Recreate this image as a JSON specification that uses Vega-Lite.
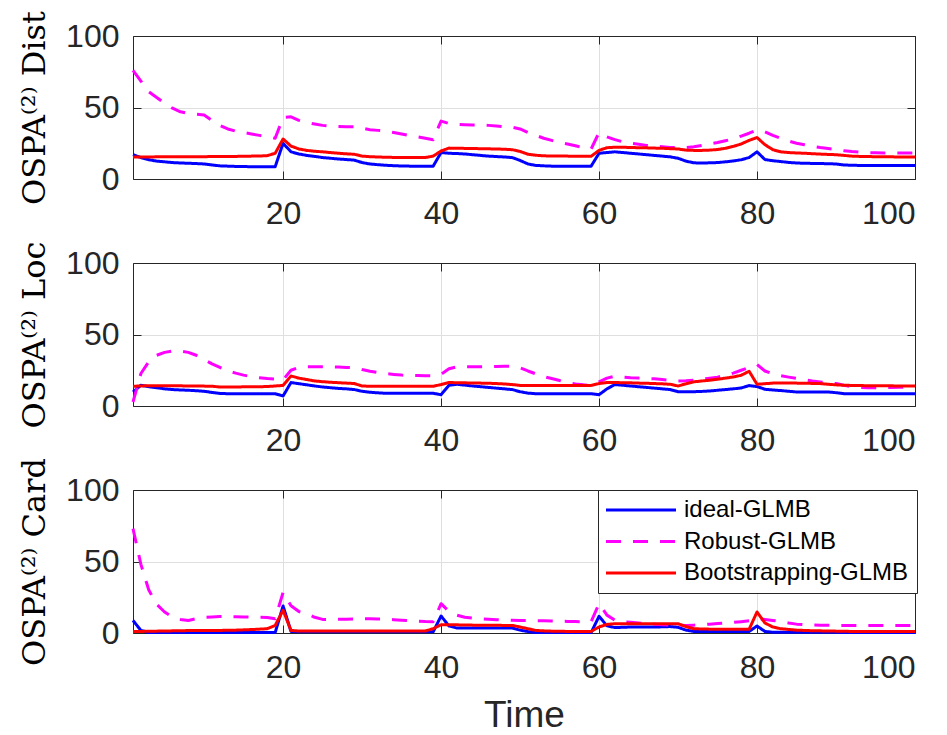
{
"$schema": "https://vega.github.io/schema/vega-lite/v6.json",
"background": "white",
"padding": {"left": 18, "top": 10, "right": 5, "bottom": 5},
"autosize": {"type": "pad"},
"bounds": "flush",
"spacing": 84,
"config": {
 "font": "Liberation Sans",
 "view": {"stroke": null},
 "axis": {"labelFont": "Liberation Sans", "labelFontSize": 32, "labelColor": "#262626", "gridColor": "#dfdfdf", "gridWidth": 1, "domain": true, "domainColor": "#262626", "domainWidth": 1, "tickColor": "#262626", "tickSize": -8, "tickWidth": 1, "titleFont": "DejaVu Serif", "titleFontWeight": "normal", "titleColor": "#000000", "titleFontSize": 32, "zindex": 1},
 "axisX": {"labelPadding": 27},
 "axisY": {"labelPadding": 22, "titlePadding": 14},
 "line": {"strokeWidth": 3, "strokeJoin": "round"}
},
"datasets": {
 "names": [{"k":"D1","method":"ideal-GLMB"},{"k":"D2","method":"Robust-GLMB"},{"k":"D3","method":"Bootstrapping-GLMB"},{"k":"L1","method":"ideal-GLMB"},{"k":"L2","method":"Robust-GLMB"},{"k":"L3","method":"Bootstrapping-GLMB"},{"k":"C1","method":"ideal-GLMB"},{"k":"C2","method":"Robust-GLMB"},{"k":"C3","method":"Bootstrapping-GLMB"}],
 "ospa": [
{"t":1,"D1":17,"D2":76,"D3":15.4,"L1":9.8,"L2":2.8,"L3":13.8,"C1":8.8,"C2":73,"C3":1.1},
{"t":2,"D1":15,"D2":68.5,"D3":15.4,"L1":14.5,"L2":22.7,"L3":14,"C1":1.8,"C2":48,"C3":1.1},
{"t":3,"D1":13.5,"D2":61,"D3":15.4,"L1":13.5,"L2":31,"L3":14.2,"C1":0.3,"C2":30,"C3":1.2},
{"t":4,"D1":12.5,"D2":57,"D3":15.5,"L1":12.8,"L2":35.5,"L3":14.2,"C1":0.3,"C2":20,"C3":1.3},
{"t":5,"D1":12,"D2":53,"D3":15.5,"L1":12,"L2":37.5,"L3":14.2,"C1":0.3,"C2":14.7,"C3":1.4},
{"t":6,"D1":11.5,"D2":49.5,"D3":15.5,"L1":11.5,"L2":38.4,"L3":14.1,"C1":0.3,"C2":11,"C3":1.5},
{"t":7,"D1":11.2,"D2":47,"D3":15.5,"L1":11.2,"L2":38.4,"L3":14.1,"C1":0.3,"C2":9.5,"C3":1.6},
{"t":8,"D1":11,"D2":45.8,"D3":15.6,"L1":11,"L2":37.5,"L3":14,"C1":0.3,"C2":8.8,"C3":1.7},
{"t":9,"D1":10.8,"D2":45.3,"D3":15.6,"L1":10.7,"L2":35.5,"L3":13.9,"C1":0.3,"C2":10,"C3":1.7},
{"t":10,"D1":10.5,"D2":44.8,"D3":15.6,"L1":10.3,"L2":32.5,"L3":13.9,"C1":0.3,"C2":10.9,"C3":1.8},
{"t":11,"D1":9.8,"D2":41,"D3":15.7,"L1":9.5,"L2":29.5,"L3":13.8,"C1":0.3,"C2":11.2,"C3":1.8},
{"t":12,"D1":9.2,"D2":37.5,"D3":15.7,"L1":8.8,"L2":27,"L3":13.3,"C1":0.3,"C2":11.5,"C3":1.8},
{"t":13,"D1":9,"D2":35,"D3":15.8,"L1":8.6,"L2":24.6,"L3":13.3,"C1":0.3,"C2":11.4,"C3":1.9},
{"t":14,"D1":8.8,"D2":33.5,"D3":15.8,"L1":8.6,"L2":23,"L3":13.3,"C1":0.3,"C2":11.3,"C3":2},
{"t":15,"D1":8.7,"D2":32.5,"D3":15.9,"L1":8.6,"L2":21.6,"L3":13.4,"C1":0.3,"C2":11.2,"C3":2.2},
{"t":16,"D1":8.6,"D2":31.5,"D3":16,"L1":8.6,"L2":20.4,"L3":13.4,"C1":0.3,"C2":11.1,"C3":2.4},
{"t":17,"D1":8.6,"D2":30.5,"D3":16.1,"L1":8.6,"L2":19.8,"L3":13.5,"C1":0.3,"C2":11,"C3":2.7},
{"t":18,"D1":8.6,"D2":29.5,"D3":16.3,"L1":8.6,"L2":19.2,"L3":13.6,"C1":0.3,"C2":10.9,"C3":3},
{"t":19,"D1":8.6,"D2":28.5,"D3":18,"L1":8.6,"L2":18.8,"L3":14,"C1":0.3,"C2":9.9,"C3":5.3},
{"t":20,"D1":25,"D2":43,"D3":28,"L1":7,"L2":18.3,"L3":14.4,"C1":18.9,"C2":28.3,"C3":15.9},
{"t":21,"D1":19,"D2":43.5,"D3":23,"L1":16.4,"L2":25,"L3":21,"C1":1.1,"C2":19,"C3":1.8},
{"t":22,"D1":17.5,"D2":41,"D3":21,"L1":15.6,"L2":27,"L3":19.5,"C1":0.8,"C2":15,"C3":1.4},
{"t":23,"D1":16.5,"D2":39.5,"D3":20,"L1":14.8,"L2":27.4,"L3":18.5,"C1":0.8,"C2":13.5,"C3":1.4},
{"t":24,"D1":15.8,"D2":38.5,"D3":19.4,"L1":14,"L2":27.4,"L3":17.5,"C1":0.8,"C2":11,"C3":1.4},
{"t":25,"D1":15,"D2":37.5,"D3":19,"L1":13.3,"L2":27.4,"L3":17,"C1":0.8,"C2":9.5,"C3":1.4},
{"t":26,"D1":14.5,"D2":37,"D3":18.5,"L1":12.8,"L2":27.4,"L3":16.6,"C1":0.8,"C2":9.5,"C3":1.4},
{"t":27,"D1":14,"D2":36.8,"D3":18,"L1":12.3,"L2":27.2,"L3":16.3,"C1":0.8,"C2":9.6,"C3":1.4},
{"t":28,"D1":13.6,"D2":36.6,"D3":17.6,"L1":12,"L2":27,"L3":16,"C1":0.8,"C2":9.7,"C3":1.4},
{"t":29,"D1":13.2,"D2":36.5,"D3":17.3,"L1":11.5,"L2":26.9,"L3":15.7,"C1":0.8,"C2":9.8,"C3":1.4},
{"t":30,"D1":11.5,"D2":35.5,"D3":16,"L1":10.3,"L2":25.5,"L3":14,"C1":0.8,"C2":9.9,"C3":1.4},
{"t":31,"D1":10.5,"D2":34.5,"D3":15.6,"L1":9.6,"L2":24.3,"L3":13.8,"C1":0.8,"C2":9.9,"C3":1.4},
{"t":32,"D1":10,"D2":34,"D3":15.4,"L1":9.2,"L2":23.4,"L3":13.8,"C1":0.8,"C2":9.8,"C3":1.4},
{"t":33,"D1":9.6,"D2":33.5,"D3":15.2,"L1":8.9,"L2":22.7,"L3":13.8,"C1":0.8,"C2":9.6,"C3":1.4},
{"t":34,"D1":9.3,"D2":32.5,"D3":15.1,"L1":8.9,"L2":22.1,"L3":13.8,"C1":0.8,"C2":9.3,"C3":1.4},
{"t":35,"D1":9.1,"D2":31.5,"D3":15,"L1":8.9,"L2":21.6,"L3":13.8,"C1":0.8,"C2":9,"C3":1.4},
{"t":36,"D1":9,"D2":30.5,"D3":15,"L1":8.9,"L2":21.4,"L3":13.8,"C1":0.8,"C2":8.6,"C3":1.4},
{"t":37,"D1":9,"D2":29.5,"D3":15,"L1":8.9,"L2":21.3,"L3":13.8,"C1":0.8,"C2":8.3,"C3":1.4},
{"t":38,"D1":9,"D2":28.5,"D3":15,"L1":8.9,"L2":21.2,"L3":13.8,"C1":0.8,"C2":8,"C3":1.4},
{"t":39,"D1":9,"D2":27.5,"D3":16,"L1":8.9,"L2":21.1,"L3":13.8,"C1":0.8,"C2":7.9,"C3":3},
{"t":40,"D1":18.5,"D2":40.5,"D3":19.6,"L1":7.9,"L2":22.2,"L3":15,"C1":11.9,"C2":20.5,"C3":5.8},
{"t":41,"D1":18,"D2":38.8,"D3":21.6,"L1":14.5,"L2":26,"L3":16.4,"C1":4.9,"C2":15,"C3":5.8},
{"t":42,"D1":17.8,"D2":38.2,"D3":21.5,"L1":15.2,"L2":27.4,"L3":16.3,"C1":3.5,"C2":12.5,"C3":5.7},
{"t":43,"D1":17.5,"D2":38,"D3":21.4,"L1":14.6,"L2":27.4,"L3":16.2,"C1":3.5,"C2":11,"C3":5.6},
{"t":44,"D1":17,"D2":37.8,"D3":21.3,"L1":14,"L2":27.4,"L3":16.1,"C1":3.5,"C2":10.4,"C3":5.5},
{"t":45,"D1":16.5,"D2":37.8,"D3":21.2,"L1":13.5,"L2":27.4,"L3":16,"C1":3.5,"C2":10,"C3":5.5},
{"t":46,"D1":16,"D2":37.5,"D3":21.1,"L1":13,"L2":27.5,"L3":15.9,"C1":3.5,"C2":9.6,"C3":5.4},
{"t":47,"D1":15.7,"D2":37,"D3":21,"L1":12.5,"L2":27.6,"L3":15.7,"C1":3.5,"C2":9.3,"C3":5.4},
{"t":48,"D1":15.4,"D2":36.5,"D3":20.8,"L1":12,"L2":27.8,"L3":15.4,"C1":3.5,"C2":9,"C3":5.3},
{"t":49,"D1":15,"D2":36.2,"D3":20.5,"L1":11.5,"L2":27.9,"L3":15,"C1":3.5,"C2":8.9,"C3":5.3},
{"t":50,"D1":13,"D2":35,"D3":19.3,"L1":10,"L2":26.7,"L3":14.4,"C1":2,"C2":8.8,"C3":4.2},
{"t":51,"D1":10.5,"D2":32.5,"D3":17.3,"L1":9,"L2":24.5,"L3":14.4,"C1":1,"C2":8.8,"C3":3},
{"t":52,"D1":9.5,"D2":30.5,"D3":16.6,"L1":8.6,"L2":22.5,"L3":14.4,"C1":0.3,"C2":8.6,"C3":1.8},
{"t":53,"D1":9.2,"D2":28.5,"D3":16.2,"L1":8.6,"L2":20.5,"L3":14.4,"C1":0.3,"C2":8.5,"C3":1.5},
{"t":54,"D1":9,"D2":27,"D3":16.1,"L1":8.6,"L2":19.2,"L3":14.4,"C1":0.3,"C2":8.4,"C3":1.3},
{"t":55,"D1":9,"D2":25.5,"D3":16,"L1":8.6,"L2":17.8,"L3":14.4,"C1":0.3,"C2":8.2,"C3":1.2},
{"t":56,"D1":9,"D2":24.5,"D3":16,"L1":8.6,"L2":16.5,"L3":14.4,"C1":0.3,"C2":8.1,"C3":1.1},
{"t":57,"D1":9,"D2":23.2,"D3":15.9,"L1":8.6,"L2":15.4,"L3":14.4,"C1":0.3,"C2":8,"C3":1.1},
{"t":58,"D1":9,"D2":22,"D3":15.9,"L1":8.6,"L2":14.8,"L3":14.4,"C1":0.3,"C2":7.9,"C3":1.1},
{"t":59,"D1":9,"D2":21,"D3":15.9,"L1":8.6,"L2":14.4,"L3":14.4,"C1":0.3,"C2":7.9,"C3":1.1},
{"t":60,"D1":18,"D2":32.5,"D3":20,"L1":7.9,"L2":16.9,"L3":15.7,"C1":11.7,"C2":20.5,"C3":4.2},
{"t":61,"D1":18.5,"D2":29.5,"D3":21.9,"L1":12,"L2":19.5,"L3":16.4,"C1":5,"C2":12.5,"C3":6},
{"t":62,"D1":19,"D2":27.5,"D3":22.2,"L1":15,"L2":20.8,"L3":16.4,"C1":3.8,"C2":9,"C3":6.5},
{"t":63,"D1":18.5,"D2":26,"D3":22.2,"L1":14.5,"L2":20.3,"L3":16.3,"C1":4,"C2":7.9,"C3":6.5},
{"t":64,"D1":18,"D2":25,"D3":22,"L1":14,"L2":19.8,"L3":16.2,"C1":4.2,"C2":7.5,"C3":6.5},
{"t":65,"D1":17.5,"D2":24.3,"D3":21.9,"L1":13.5,"L2":19.5,"L3":16,"C1":4.2,"C2":7,"C3":6.5},
{"t":66,"D1":17,"D2":23.5,"D3":21.8,"L1":13,"L2":19.2,"L3":15.9,"C1":4.2,"C2":6.5,"C3":6.5},
{"t":67,"D1":16.5,"D2":23,"D3":21.6,"L1":12.5,"L2":19,"L3":15.7,"C1":4.2,"C2":6.2,"C3":6.5},
{"t":68,"D1":16,"D2":22.5,"D3":21.5,"L1":12,"L2":18.5,"L3":15.5,"C1":4.3,"C2":5.8,"C3":6.5},
{"t":69,"D1":15.5,"D2":22,"D3":21.2,"L1":11.5,"L2":18,"L3":15.2,"C1":4.5,"C2":5.6,"C3":6.5},
{"t":70,"D1":14.5,"D2":22,"D3":21,"L1":10,"L2":17.5,"L3":14,"C1":4,"C2":5.5,"C3":6.5},
{"t":71,"D1":12.5,"D2":22,"D3":20.2,"L1":10,"L2":17.7,"L3":15.5,"C1":2,"C2":5.3,"C3":4.5},
{"t":72,"D1":11.3,"D2":22.5,"D3":20,"L1":10,"L2":18.1,"L3":16.9,"C1":1.1,"C2":5.5,"C3":3},
{"t":73,"D1":11.2,"D2":23.5,"D3":20,"L1":10.2,"L2":18.8,"L3":17.5,"C1":1.1,"C2":5.8,"C3":2.8},
{"t":74,"D1":11.3,"D2":24.5,"D3":20.2,"L1":10.5,"L2":19.5,"L3":18,"C1":1.1,"C2":6.2,"C3":2.7},
{"t":75,"D1":11.5,"D2":25.5,"D3":20.6,"L1":11,"L2":20.2,"L3":18.7,"C1":1.1,"C2":6.6,"C3":2.6},
{"t":76,"D1":12,"D2":26.8,"D3":21.5,"L1":11.5,"L2":21.5,"L3":19.5,"C1":1.1,"C2":7,"C3":2.6},
{"t":77,"D1":12.6,"D2":28,"D3":22.8,"L1":12,"L2":23,"L3":20.3,"C1":1.1,"C2":7.4,"C3":2.6},
{"t":78,"D1":13.5,"D2":30,"D3":24.5,"L1":12.6,"L2":25,"L3":21.5,"C1":1.1,"C2":7.9,"C3":2.6},
{"t":79,"D1":15,"D2":32,"D3":27,"L1":14.3,"L2":27,"L3":24.3,"C1":1.1,"C2":8.5,"C3":2.6},
{"t":80,"D1":19,"D2":34.3,"D3":29,"L1":13.6,"L2":29,"L3":15.2,"C1":4.9,"C2":10,"C3":14.7},
{"t":81,"D1":13.6,"D2":33,"D3":24,"L1":11.7,"L2":24.5,"L3":15.6,"C1":1.1,"C2":9.5,"C3":7},
{"t":82,"D1":12.8,"D2":30.5,"D3":20.5,"L1":11.2,"L2":22.5,"L3":16,"C1":0.5,"C2":8.8,"C3":4.2},
{"t":83,"D1":12.2,"D2":28.5,"D3":19,"L1":10.8,"L2":21.2,"L3":16,"C1":0.5,"C2":8,"C3":3},
{"t":84,"D1":11.6,"D2":26.5,"D3":18.5,"L1":10.3,"L2":20.2,"L3":16,"C1":0.5,"C2":7,"C3":2.5},
{"t":85,"D1":11.2,"D2":25,"D3":18.2,"L1":9.8,"L2":19.3,"L3":16,"C1":0.5,"C2":6.2,"C3":2},
{"t":86,"D1":11,"D2":24,"D3":18,"L1":9.8,"L2":18.5,"L3":15.9,"C1":0.5,"C2":5.8,"C3":1.8},
{"t":87,"D1":10.9,"D2":23,"D3":17.7,"L1":9.8,"L2":17.5,"L3":15.8,"C1":0.5,"C2":5.6,"C3":1.6},
{"t":88,"D1":10.8,"D2":22,"D3":17.4,"L1":9.8,"L2":16.8,"L3":15.7,"C1":0.5,"C2":5.5,"C3":1.5},
{"t":89,"D1":10.7,"D2":21.3,"D3":17.2,"L1":9.8,"L2":16.2,"L3":15.2,"C1":0.5,"C2":5.4,"C3":1.4},
{"t":90,"D1":10.5,"D2":20.5,"D3":17,"L1":9.3,"L2":15.7,"L3":14.8,"C1":0.5,"C2":5.3,"C3":1.3},
{"t":91,"D1":9.8,"D2":19.8,"D3":16.5,"L1":8.6,"L2":14.5,"L3":14.5,"C1":0.3,"C2":5.3,"C3":1.2},
{"t":92,"D1":9.6,"D2":19.2,"D3":16,"L1":8.6,"L2":13.5,"L3":14.4,"C1":0.3,"C2":5.3,"C3":1.1},
{"t":93,"D1":9.5,"D2":18.8,"D3":15.8,"L1":8.6,"L2":13,"L3":14.3,"C1":0.3,"C2":5.3,"C3":1.1},
{"t":94,"D1":9.5,"D2":18.5,"D3":15.7,"L1":8.6,"L2":12.8,"L3":14.2,"C1":0.3,"C2":5.3,"C3":1.1},
{"t":95,"D1":9.5,"D2":18.3,"D3":15.6,"L1":8.6,"L2":12.7,"L3":14.2,"C1":0.3,"C2":5.3,"C3":1.1},
{"t":96,"D1":9.5,"D2":18.2,"D3":15.5,"L1":8.6,"L2":12.8,"L3":14.1,"C1":0.3,"C2":5.3,"C3":1.1},
{"t":97,"D1":9.5,"D2":18.2,"D3":15.5,"L1":8.6,"L2":13,"L3":14.1,"C1":0.3,"C2":5.3,"C3":1.1},
{"t":98,"D1":9.5,"D2":18.2,"D3":15.4,"L1":8.6,"L2":13.1,"L3":14,"C1":0.3,"C2":5.3,"C3":1.1},
{"t":99,"D1":9.5,"D2":18.2,"D3":15.4,"L1":8.6,"L2":13.2,"L3":14,"C1":0.3,"C2":5.3,"C3":1.1},
{"t":100,"D1":9.5,"D2":18.2,"D3":15.4,"L1":8.6,"L2":13.3,"L3":14,"C1":0.3,"C2":5.3,"C3":1.1}
 ]
},
"resolve": {"legend": {"color": "independent", "strokeDash": "independent"}},
"vconcat": [
 {
  "width": 782, "height": 143,
  "data": {"name": "ospa"},
  "transform": [{"fold": ["D1","D2","D3"], "as": ["key","value"]}, {"lookup": "key", "from": {"data": {"name": "names"}, "key": "k", "fields": ["method"]}}],
  "layer": [
   {
    "mark": {"type": "line"},
    "encoding": {
     "x": {"field": "t", "type": "quantitative", "scale": {"domain": [1,100], "nice": false, "zero": false}, "axis": {"values": [20,40,60,80,100], "title": null}},
     "y": {"field": "value", "type": "quantitative", "scale": {"domain": [0,100], "nice": false}, "axis": {"values": [0,50,100], "title": "OSPA⁽²⁾ Dist"}},
     "color": {"field": "method", "type": "nominal", "scale": {"domain": ["ideal-GLMB","Robust-GLMB","Bootstrapping-GLMB"], "range": ["#0000ff","#ff00ff","#ff0000"]}, "legend": null},
     "strokeDash": {"field": "method", "type": "nominal", "scale": {"domain": ["ideal-GLMB","Robust-GLMB","Bootstrapping-GLMB"], "range": [[1,0],[15,12],[1,0]]}, "legend": null}
    }
   },
   {
    "mark": {"type": "line", "strokeOpacity": 0},
    "encoding": {
     "x": {"field": "t", "type": "quantitative", "axis": {"orient": "top", "values": [20,40,60,80,100], "labels": false, "grid": false, "title": null}},
     "y": {"field": "value", "type": "quantitative", "axis": {"orient": "right", "values": [0,50,100], "labels": false, "grid": false, "title": null}},
     "detail": {"field": "method"}
    }
   }
  ],
  "resolve": {"axis": {"x": "independent", "y": "independent"}}
 },
 {
  "width": 782, "height": 143,
  "data": {"name": "ospa"},
  "transform": [{"fold": ["L1","L2","L3"], "as": ["key","value"]}, {"lookup": "key", "from": {"data": {"name": "names"}, "key": "k", "fields": ["method"]}}],
  "layer": [
   {
    "mark": {"type": "line"},
    "encoding": {
     "x": {"field": "t", "type": "quantitative", "scale": {"domain": [1,100], "nice": false, "zero": false}, "axis": {"values": [20,40,60,80,100], "title": null}},
     "y": {"field": "value", "type": "quantitative", "scale": {"domain": [0,100], "nice": false}, "axis": {"values": [0,50,100], "title": "OSPA⁽²⁾ Loc"}},
     "color": {"field": "method", "type": "nominal", "scale": {"domain": ["ideal-GLMB","Robust-GLMB","Bootstrapping-GLMB"], "range": ["#0000ff","#ff00ff","#ff0000"]}, "legend": null},
     "strokeDash": {"field": "method", "type": "nominal", "scale": {"domain": ["ideal-GLMB","Robust-GLMB","Bootstrapping-GLMB"], "range": [[1,0],[15,12],[1,0]]}, "legend": null}
    }
   },
   {
    "mark": {"type": "line", "strokeOpacity": 0},
    "encoding": {
     "x": {"field": "t", "type": "quantitative", "axis": {"orient": "top", "values": [20,40,60,80,100], "labels": false, "grid": false, "title": null}},
     "y": {"field": "value", "type": "quantitative", "axis": {"orient": "right", "values": [0,50,100], "labels": false, "grid": false, "title": null}},
     "detail": {"field": "method"}
    }
   }
  ],
  "resolve": {"axis": {"x": "independent", "y": "independent"}}
 },
 {
  "width": 782, "height": 143,
  "data": {"name": "ospa"},
  "transform": [{"fold": ["C1","C2","C3"], "as": ["key","value"]}, {"lookup": "key", "from": {"data": {"name": "names"}, "key": "k", "fields": ["method"]}}],
  "layer": [
   {
    "mark": {"type": "line"},
    "encoding": {
     "x": {"field": "t", "type": "quantitative", "scale": {"domain": [1,100], "nice": false, "zero": false}, "axis": {"values": [20,40,60,80,100], "title": "Time", "titleFont": "Liberation Sans", "titleFontSize": 37, "titleColor": "#262626", "titlePadding": 14}},
     "y": {"field": "value", "type": "quantitative", "scale": {"domain": [0,100], "nice": false}, "axis": {"values": [0,50,100], "title": "OSPA⁽²⁾ Card"}},
     "color": {"field": "method", "type": "nominal", "scale": {"domain": ["ideal-GLMB","Robust-GLMB","Bootstrapping-GLMB"], "range": ["#0000ff","#ff00ff","#ff0000"]},
       "legend": {"orient": "none", "legendX": 465, "legendY": 0, "title": null, "symbolType": "M-5,0H5", "symbolSize": 196, "symbolStrokeWidth": 3, "symbolOffset": 23, "labelOffset": 31, "labelFont": "Liberation Sans", "labelFontSize": 24, "labelColor": "#000000", "strokeColor": "#262626", "fillColor": "#ffffff", "padding": 8, "rowPadding": 7.5, "labelLimit": 400}},
     "strokeDash": {"field": "method", "type": "nominal", "scale": {"domain": ["ideal-GLMB","Robust-GLMB","Bootstrapping-GLMB"], "range": [[1,0],[15,12],[1,0]]},
       "legend": {"orient": "none", "legendX": 465, "legendY": 0, "title": null, "symbolType": "M-5,0H5", "symbolSize": 196, "symbolStrokeWidth": 3, "symbolOffset": 23, "labelOffset": 31, "labelFont": "Liberation Sans", "labelFontSize": 24, "labelColor": "#000000", "strokeColor": "#262626", "fillColor": "#ffffff", "padding": 8, "rowPadding": 7.5, "labelLimit": 400}}
    }
   },
   {
    "mark": {"type": "line", "strokeOpacity": 0},
    "encoding": {
     "x": {"field": "t", "type": "quantitative", "axis": {"orient": "top", "values": [20,40,60,80,100], "labels": false, "grid": false, "title": null}},
     "y": {"field": "value", "type": "quantitative", "axis": {"orient": "right", "values": [0,50,100], "labels": false, "grid": false, "title": null}},
     "detail": {"field": "method"}
    }
   }
  ],
  "resolve": {"axis": {"x": "independent", "y": "independent"}}
 }
]
}
